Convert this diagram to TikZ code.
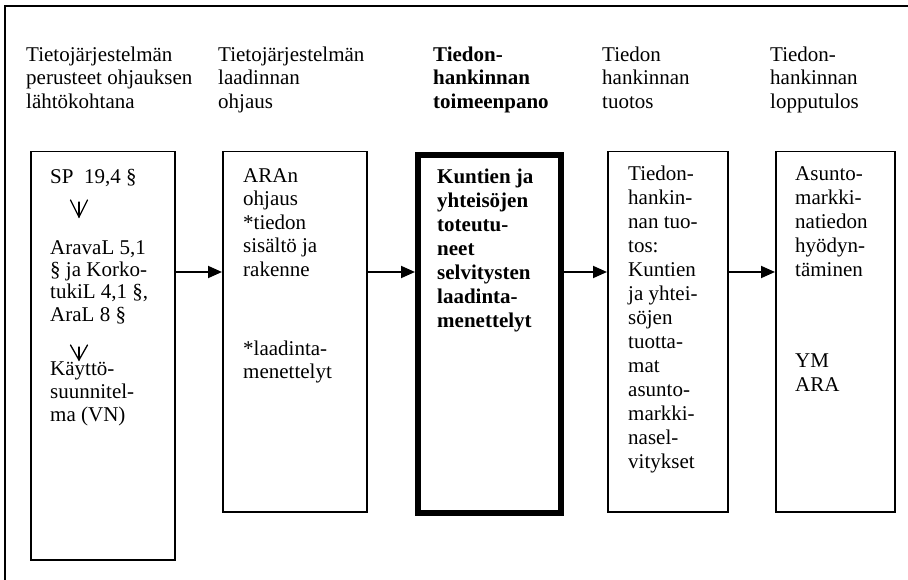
\documentclass[tikz,border=0pt]{standalone}
\usepackage{fontspec}
\setmainfont{Liberation Serif}
\usetikzlibrary{arrows.meta}
\newcommand{\fl}{\rule{0pt}{18pt}}
\tikzset{
  box/.style={draw, line width=1.5pt, minimum width=#1, inner sep=0pt, anchor=north west},
  thickbox/.style={draw, line width=6pt, inner sep=0pt, anchor=north west},
  txt/.style={anchor=north west, inner sep=0pt, align=left, font=\fontsize{21}{23.6}\selectfont},
  txtb/.style={txt, font=\fontsize{21}{24}\selectfont\bfseries},
  txtw/.style={txt, font=\fontsize{21}{24}\selectfont},
  arr/.style={line width=1.8pt, -{Triangle[length=14pt,width=12pt]}},
  vdown/.style={line width=1.3pt, line cap=round, line join=miter},
}
\begin{document}
\begin{tikzpicture}[x=1pt,y=-1pt]
\useasboundingbox (0,0) rectangle (908,580);
% frame
\draw[line width=2pt] (5,580) -- (5,6) -- (908,6);
% headers
\node[txt] (h1) at (26,43) {\fl Tietojärjestelmän\\perusteet ohjauksen\\lähtökohtana};
\node[txt] (h2) at (218,43) {\fl Tietojärjestelmän\\laadinnan\\ohjaus};
\node[txt, font=\fontsize{21}{23.6}\selectfont\bfseries] (h3) at (433,43) {\fl Tiedon-\\hankinnan\\toimeenpano};
\node[txt] (h4) at (602,43) {\fl Tiedon\\hankinnan\\tuotos};
\node[txt] (h5) at (770,43) {\fl Tiedon-\\hankinnan\\lopputulos};
% boxes
\node[draw, line width=1.5pt, inner sep=0pt, anchor=north west, minimum width=144pt, minimum height=408pt] (b1) at (30,151) {};
\node[draw, line width=1.5pt, inner sep=0pt, anchor=north west, minimum width=144pt, minimum height=360pt] (b2) at (222,151) {};
\node[draw, line width=6pt, inner sep=0pt, anchor=north west, minimum width=143pt, minimum height=358pt] (b3) at (415,152) {};
\node[draw, line width=1.5pt, inner sep=0pt, anchor=north west, minimum width=120pt, minimum height=360pt] (b4) at (607,151) {};
\node[draw, line width=1.5pt, inner sep=0pt, anchor=north west, minimum width=119pt, minimum height=360pt] (b5) at (775,151) {};
% box 1 text
\node[txt] (t1a) at (50,165) {\fl SP\ \ 19,4 §};
\node[txt, font=\fontsize{21}{22.3}\selectfont] (t1b) at (50,236) {\fl AravaL 5,1\\§ ja Korko-\\tukiL 4,1 §,\\AraL 8 §};
\node[txt, font=\fontsize{21}{23}\selectfont] (t1c) at (50,357) {\fl Käyttö-\\suunnitel-\\ma (VN)};
\coordinate (v1) at (79,217);
\coordinate (v2) at (79,360);
\draw[vdown] ([xshift=-8.5pt,yshift=17pt]v1) -- (v1) -- ([xshift=8.5pt,yshift=17pt]v1);
\draw[vdown] ([yshift=15pt]v1) -- (v1);
\draw[vdown] ([xshift=-8.5pt,yshift=15pt]v2) -- (v2) -- ([xshift=8.5pt,yshift=15pt]v2);
\draw[vdown] ([yshift=13pt]v2) -- (v2);
% box 2 text
\node[txt] (t2a) at (243,164) {\fl ARAn\\ohjaus\\*tiedon\\sisältö ja\\rakenne};
\node[txt] (t2b) at (243,337) {\fl *laadinta-\\menettelyt};
% box 3 text
\node[txtb] (t3) at (437,165) {\fl Kuntien ja\\yhteisöjen\\toteutu-\\neet\\selvitysten\\laadinta-\\menettelyt};
% box 4 text
\node[txtw] (t4) at (628,162) {\fl Tiedon-\\hankin-\\nan tuo-\\tos:\\Kuntien\\ja yhtei-\\söjen\\tuotta-\\mat\\asunto-\\markki-\\nasel-\\vitykset};
% box 5 text
\node[txtw] (t5a) at (795,162) {\fl Asunto-\\markki-\\natiedon\\hyödyn-\\täminen};
\node[txtw] (t5b) at (795,349) {\fl YM\\ARA};
% arrows
\coordinate (ay) at (0,272);
\draw[arr] (b1.east |- ay) -- (b2.west |- ay);
\draw[arr] (b2.east |- ay) -- (b3.west |- ay);
\draw[arr] (b3.east |- ay) -- (b4.west |- ay);
\draw[arr] (b4.east |- ay) -- (b5.west |- ay);
\end{tikzpicture}
\end{document}
